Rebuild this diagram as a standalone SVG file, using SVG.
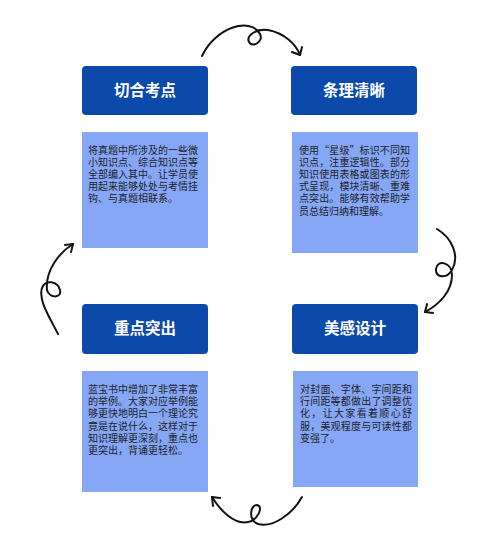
<svg xmlns="http://www.w3.org/2000/svg" width="488" height="552" viewBox="0 0 488 552">
<style>
.hd{fill:#0b4aab}
.bd{fill:#86a7f6}
.ht{font-family:"Noto Sans CJK SC","Noto Sans",sans-serif;font-size:15.5px;font-weight:bold;fill:#fff;text-anchor:middle}
.bt{font-family:"Liberation Sans","Noto Sans CJK SC",sans-serif;font-size:10px;fill:#1e1e28}
.q{font-family:"Noto Sans CJK SC",sans-serif}
.ar{fill:none;stroke:#111;stroke-width:2;stroke-linecap:round;stroke-linejoin:round}
</style>
<rect width="488" height="552" fill="#fff"/>
<g id="n1">
<rect class="hd" x="82" y="66" width="126" height="49" rx="4"/>
<text class="ht" x="145" y="96">切合考点</text>
<rect class="bd" x="82" y="132" width="126" height="116"/>
<text class="bt"><tspan x="88" y="153.5" textLength="110" lengthAdjust="spacing">将真题中所涉及的一些微</tspan><tspan x="88" y="165.7" textLength="110" lengthAdjust="spacing">小知识点、综合知识点等</tspan><tspan x="88" y="177.9" textLength="110" lengthAdjust="spacing">全部编入其中。让学员使</tspan><tspan x="88" y="190.1" textLength="110" lengthAdjust="spacing">用起来能够处处与考情挂</tspan><tspan x="88" y="202.3">钩、与真题相联系。</tspan></text>
</g>
<g id="n2">
<rect class="hd" x="291" y="66" width="126" height="49" rx="4"/>
<text class="ht" x="354" y="96">条理清晰</text>
<rect class="bd" x="292" y="132" width="126" height="121"/>
<text class="bt"><tspan x="299" y="153.5" textLength="111" lengthAdjust="spacing">使用<tspan class="q">“</tspan>星级<tspan class="q">”</tspan>标识不同知</tspan><tspan x="299" y="165.7" textLength="111" lengthAdjust="spacing">识点，注重逻辑性。部分</tspan><tspan x="299" y="177.9" textLength="111" lengthAdjust="spacing">知识使用表格或图表的形</tspan><tspan x="299" y="190.1" textLength="111" lengthAdjust="spacing">式呈现，模块清晰、重难</tspan><tspan x="299" y="202.3" textLength="111" lengthAdjust="spacing">点突出。能够有效帮助学</tspan><tspan x="299" y="214.5">员总结归纳和理解。</tspan></text>
</g>
<g id="n3">
<rect class="hd" x="82" y="304" width="126" height="50" rx="4"/>
<text class="ht" x="145" y="334">重点突出</text>
<rect class="bd" x="82" y="371" width="126" height="121"/>
<text class="bt"><tspan x="88" y="393" textLength="110" lengthAdjust="spacing">蓝宝书中增加了非常丰富</tspan><tspan x="88" y="405.2" textLength="110" lengthAdjust="spacing">的举例。大家对应举例能</tspan><tspan x="88" y="417.4" textLength="110" lengthAdjust="spacing">够更快地明白一个理论究</tspan><tspan x="88" y="429.6" textLength="110" lengthAdjust="spacing">竟是在说什么，这样对于</tspan><tspan x="88" y="441.8" textLength="110" lengthAdjust="spacing">知识理解更深刻，重点也</tspan><tspan x="88" y="454">更突出，背诵更轻松。</tspan></text>
</g>
<g id="n4">
<rect class="hd" x="292" y="304" width="126" height="50" rx="4"/>
<text class="ht" x="355" y="334">美感设计</text>
<rect class="bd" x="293" y="371" width="125" height="116"/>
<text class="bt"><tspan x="300" y="393" textLength="112" lengthAdjust="spacing">对封面、字体、字间距和</tspan><tspan x="300" y="405.2" textLength="112" lengthAdjust="spacing">行间距等都做出了调整优</tspan><tspan x="300" y="417.4" textLength="112" lengthAdjust="spacing">化，让大家看着顺心舒</tspan><tspan x="300" y="429.6" textLength="112" lengthAdjust="spacing">服，美观程度与可读性都</tspan><tspan x="300" y="441.8">变强了。</tspan></text>
</g>
<g id="connectors">
<path class="ar" d="M202,56 C215,28 250,16 260,34 C264,42 252,48 249,42 C246,36 256,28 268,30 C284,33 296,44 300,55"/>
<path class="ar" d="M292,52 L300,55 L302,47"/>
<path class="ar" d="M437,229 C452,238 460,256 452,270 C447,279 435,278 436,269 C437,259 452,262 452,275 C452,291 440,304 425,312"/>
<path class="ar" d="M427,304 L425,312 L433,313"/>
<path class="ar" d="M58,334 C50,318 38,300 42,288 C45,279 58,281 60,290 C62,299 49,298 47,290 C45,270 60,252 73,244"/>
<path class="ar" d="M65,245 L73,244 L71,252"/>
<path class="ar" d="M302,497 C292,515 272,528 258,524 C248,520 250,505 257,505 C264,506 258,520 248,522 C234,525 220,510 212,497"/>
<path class="ar" d="M213,506 L212,497 L220,498"/>
</g>
</svg>
